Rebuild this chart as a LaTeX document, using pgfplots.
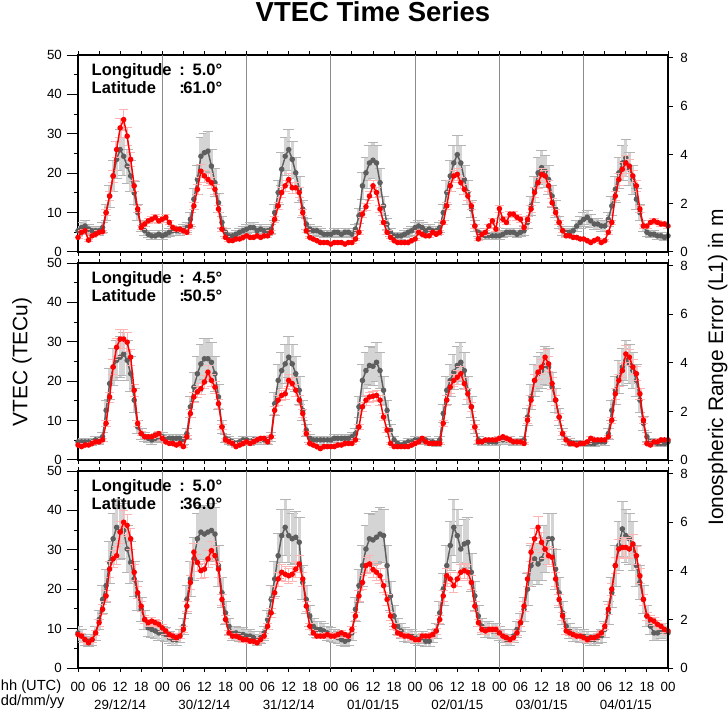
\documentclass[border=0pt]{standalone}
\usepackage{fontspec}
\setmainfont{Liberation Sans}
\usepackage{pgfplots}
\usepackage{pgfplotstable}
\pgfplotsset{compat=1.18}

\definecolor{gline}{HTML}{5E5E5E}
\definecolor{gband}{HTML}{D4D4D4}
\definecolor{gwhisk}{HTML}{B4B4B4}
\definecolor{rband}{HTML}{FFB4B4}

\pgfplotstableread{
h g r
0 5.4 3.7
1 6.2 5.0
2 6.6 5.4
3 5.8 3.0
4 5.4 4.1
5 5.4 4.5
6 5.4 5.0
7 6.2 5.2
8 10.0 10.0
9 14.2 14.2
10 19.3 19.3
11 23.5 26.0
12 26.0 31.5
13 24.3 33.6
14 21.8 29.4
15 19.3 23.5
16 15.0 16.8
17 10.0 10.9
18 6.6 6.2
19 5.4 7.1
20 4.5 7.9
21 4.1 8.3
22 4.1 8.8
23 4.5 7.9
24 4.1 8.3
25 4.5 8.8
26 5.0 7.5
27 5.4 6.2
28 5.4 5.8
29 5.4 5.8
30 5.8 5.4
31 6.2 5.0
32 8.3 6.6
33 13.4 11.7
34 18.4 15.9
35 24.3 20.5
36 25.2 19.3
37 25.6 18.4
38 21.8 17.6
39 17.6 15.9
40 12.5 10.9
41 7.5 5.8
42 5.0 3.7
43 4.1 2.9
44 4.1 2.9
45 4.5 3.3
46 5.0 3.3
47 5.4 3.7
48 5.8 4.1
49 6.2 3.7
50 6.2 3.7
51 5.4 4.1
52 5.8 3.7
53 5.4 4.1
54 5.4 4.1
55 5.8 5.0
56 10.0 8.3
57 15.1 11.7
58 21.0 15.1
59 24.3 16.8
60 26.0 18.4
61 23.5 16.3
62 20.1 16.3
63 15.9 15.1
64 10.9 10.0
65 7.1 5.4
66 5.8 3.7
67 5.4 3.3
68 5.4 2.9
69 5.0 2.4
70 4.5 2.4
71 4.5 2.4
72 4.5 2.0
73 5.0 2.4
74 5.0 2.4
75 4.5 2.4
76 5.0 2.0
77 5.0 2.4
78 4.5 2.4
79 5.8 3.3
80 9.2 5.0
81 16.8 9.6
82 20.1 11.5
83 22.6 14.2
84 23.3 16.8
85 22.6 15.1
86 17.6 10.9
87 11.7 7.5
88 7.1 5.0
89 5.0 3.7
90 4.1 2.9
91 4.1 2.4
92 4.1 2.4
93 4.5 2.4
94 5.0 2.4
95 5.4 2.9
96 6.2 3.3
97 6.6 5.0
98 6.2 4.5
99 5.4 4.1
100 5.8 4.1
101 5.4 5.0
102 5.4 4.5
103 6.2 5.0
104 10.0 7.5
105 15.1 11.7
106 19.3 16.8
107 22.6 19.3
108 24.7 19.7
109 22.6 17.6
110 18.4 15.9
111 15.1 14.2
112 10.9 11.7
113 6.6 6.6
114 5.0 3.3
115 4.5 4.5
116 4.1 5.0
117 4.1 6.6
118 4.1 7.9
119 4.1 5.8
120 4.1 11.0
121 4.5 8.3
122 5.0 7.5
123 5.0 9.6
124 5.0 9.6
125 4.5 8.8
126 5.0 8.3
127 5.4 6.2
128 7.5 8.3
129 11.7 10.9
130 15.9 15.1
131 20.1 17.6
132 21.4 19.7
133 20.5 19.3
134 18.4 16.8
135 14.2 12.5
136 10.9 10.0
137 7.5 7.5
138 5.4 5.4
139 5.0 4.1
140 5.0 4.1
141 5.4 3.7
142 6.6 3.7
143 7.5 3.3
144 8.3 3.3
145 8.8 2.9
146 7.9 2.4
147 7.1 2.9
148 7.1 3.3
149 6.6 2.4
150 6.6 2.9
151 8.3 5.0
152 11.7 7.5
153 15.9 14.2
154 20.1 18.4
155 22.6 21.0
156 23.9 22.6
157 21.0 21.8
158 18.4 19.3
159 13.4 16.8
160 10.0 10.9
161 6.6 6.6
162 5.0 6.6
163 4.5 7.5
164 4.5 7.9
165 4.1 7.5
166 4.1 7.1
167 3.7 7.1
168 4.1 6.6
}\panelA

\pgfplotstableread{
h g r
0 4.6 3.8
1 4.6 3.4
2 4.6 3.8
3 4.6 3.8
4 4.6 4.2
5 5.1 4.6
6 5.1 4.6
7 5.9 5.1
8 12.6 9.3
9 19.4 16.0
10 23.6 23.6
11 25.3 28.6
12 26.1 30.7
13 26.9 30.7
14 25.3 29.9
15 21.9 26.1
16 15.2 17.7
17 8.4 9.3
18 6.7 6.7
19 5.9 5.9
20 5.5 5.9
21 5.1 5.9
22 5.5 6.3
23 5.9 6.7
24 5.9 5.5
25 5.5 4.6
26 5.5 4.2
27 5.5 4.2
28 5.5 3.8
29 5.5 4.2
30 5.1 3.4
31 6.7 5.9
32 13.5 11.8
33 18.5 16.0
34 21.9 17.3
35 24.4 18.1
36 25.7 19.8
37 25.7 22.3
38 24.8 20.2
39 21.9 18.5
40 16.0 14.3
41 8.4 8.4
42 5.5 5.1
43 5.1 4.6
44 4.6 4.2
45 4.2 3.4
46 4.6 3.8
47 5.1 4.2
48 5.1 4.6
49 4.6 4.2
50 5.1 4.6
51 5.1 5.1
52 5.1 5.5
53 5.1 5.5
54 5.1 4.6
55 5.9 5.9
56 14.3 12.6
57 20.2 15.2
58 22.7 16.4
59 24.4 16.8
60 26.1 20.2
61 24.4 19.4
62 21.9 17.7
63 17.7 15.2
64 12.6 11.8
65 7.6 6.7
66 5.5 4.2
67 5.1 3.8
68 5.1 3.4
69 5.1 2.9
70 5.1 3.4
71 5.1 3.4
72 5.1 3.4
73 5.5 3.4
74 5.5 3.8
75 5.5 3.8
76 5.5 4.2
77 5.5 4.2
78 5.9 4.2
79 6.7 5.1
80 13.5 8.4
81 20.2 13.5
82 22.7 15.2
83 24.0 16.0
84 23.8 16.2
85 24.8 16.4
86 22.7 15.2
87 17.7 10.9
88 12.6 7.6
89 7.6 4.2
90 5.1 3.4
91 4.2 3.4
92 3.8 3.4
93 4.2 3.4
94 4.6 3.4
95 4.6 3.8
96 5.1 4.2
97 5.1 4.6
98 5.1 5.5
99 5.1 4.6
100 4.6 4.2
101 4.6 4.2
102 4.2 4.2
103 5.1 4.2
104 11.8 9.3
105 17.7 15.2
106 20.2 18.5
107 22.3 20.2
108 24.0 21.0
109 24.8 21.9
110 22.7 19.4
111 17.7 16.8
112 13.5 13.5
113 8.4 8.4
114 5.1 4.6
115 4.6 4.6
116 4.6 5.1
117 4.6 5.1
118 4.6 5.1
119 4.6 5.1
120 5.1 5.5
121 5.1 5.9
122 5.1 5.5
123 5.1 5.1
124 4.6 4.6
125 4.6 4.6
126 4.6 4.6
127 5.1 4.2
128 10.9 10.1
129 16.0 15.2
130 20.2 20.2
131 21.9 22.3
132 22.7 23.6
133 24.0 26.1
134 23.6 24.4
135 18.5 19.4
136 15.2 15.2
137 10.9 10.9
138 6.7 6.7
139 5.1 5.1
140 4.6 4.2
141 4.2 4.2
142 4.2 3.8
143 4.2 4.2
144 4.2 4.2
145 4.2 4.6
146 4.2 5.5
147 4.2 5.1
148 4.6 5.1
149 4.6 5.1
150 4.6 5.1
151 6.7 5.9
152 12.6 10.1
153 17.7 16.8
154 21.0 20.2
155 23.6 22.7
156 25.3 26.9
157 24.4 26.1
158 22.7 23.6
159 20.2 21.9
160 15.2 16.8
161 9.3 10.1
162 5.9 4.2
163 4.6 3.8
164 4.6 4.6
165 4.2 4.6
166 4.2 5.1
167 4.2 5.1
168 4.6 5.1
}\panelB

\pgfplotstableread{
h g r
0 8.9 8.5
1 8.1 8.1
2 7.2 7.2
3 6.8 6.4
4 7.2 7.2
5 8.9 8.9
6 12.3 11.5
7 17.4 14.9
8 20.9 18.3
9 26.8 25.1
10 32.8 27.7
11 35.7 28.5
12 34.5 34.5
13 34.9 37.0
14 30.2 36.2
15 26.8 32.8
16 22.6 24.3
17 18.3 19.1
18 14.9 15.7
19 12.3 12.3
20 10.2 11.5
21 9.8 11.9
22 9.4 11.5
23 8.9 11.1
24 8.9 10.2
25 8.5 9.4
26 7.7 8.5
27 7.2 8.1
28 7.2 7.7
29 8.1 8.1
30 10.6 9.8
31 17.4 15.7
32 22.6 21.7
33 27.7 29.4
34 32.8 26.8
35 34.5 24.7
36 34.0 25.1
37 34.5 27.7
38 34.9 29.8
39 34.0 28.5
40 26.0 25.1
41 19.1 17.4
42 14.0 12.3
43 10.6 8.9
44 8.9 8.1
45 8.9 8.1
46 8.5 7.7
47 8.5 7.2
48 8.1 7.2
49 8.1 6.8
50 7.7 6.8
51 7.2 6.4
52 7.7 7.2
53 8.9 8.1
54 12.3 10.6
55 17.4 14.0
56 22.6 19.1
57 28.5 22.6
58 33.6 24.3
59 35.7 23.8
60 33.6 23.4
61 32.8 23.8
62 33.2 25.1
63 31.9 26.4
64 21.7 22.6
65 17.4 15.7
66 13.2 10.6
67 10.6 8.9
68 9.8 8.1
69 9.8 8.1
70 9.4 8.1
71 8.9 8.5
72 8.5 8.1
73 8.1 8.1
74 7.7 8.5
75 7.2 8.9
76 6.8 8.5
77 7.2 8.1
78 8.9 9.8
79 14.9 13.2
80 20.9 18.3
81 26.0 21.7
82 30.2 26.0
83 32.8 26.4
84 32.5 25.0
85 33.2 24.3
86 34.0 23.4
87 33.6 20.9
88 26.0 17.4
89 18.3 13.2
90 13.2 10.6
91 10.6 8.9
92 9.4 8.5
93 8.5 8.1
94 8.1 8.1
95 8.1 7.7
96 7.7 7.2
97 7.2 7.2
98 7.7 8.1
99 6.8 8.1
100 6.8 8.1
101 8.1 8.5
102 9.4 9.4
103 14.0 12.3
104 20.0 18.3
105 26.0 23.4
106 31.1 22.6
107 35.7 20.9
108 33.6 22.6
109 30.2 24.3
110 31.5 24.7
111 31.9 24.3
112 24.3 21.7
113 18.3 15.7
114 13.2 11.5
115 10.6 9.8
116 9.8 9.4
117 9.8 9.8
118 9.4 9.8
119 9.4 9.8
120 8.9 8.9
121 8.1 8.1
122 7.2 7.7
123 7.2 7.2
124 8.1 7.7
125 9.8 8.9
126 11.5 11.5
127 14.9 15.7
128 20.0 22.6
129 26.0 29.4
130 27.7 32.8
131 26.4 35.7
132 27.7 31.9
133 30.2 30.2
134 32.8 28.5
135 32.8 28.1
136 25.1 22.6
137 19.1 17.4
138 14.0 13.2
139 10.6 9.4
140 9.4 8.9
141 8.5 8.5
142 8.5 8.1
143 8.1 8.1
144 8.1 7.7
145 7.7 7.2
146 7.2 7.7
147 7.2 7.7
148 7.7 8.1
149 8.1 8.9
150 9.8 10.6
151 14.0 14.9
152 19.1 20.0
153 26.0 26.0
154 31.1 30.2
155 35.3 30.6
156 33.6 30.6
157 32.8 30.2
158 31.1 31.5
159 26.0 28.5
160 21.7 23.4
161 17.4 17.4
162 13.2 13.2
163 10.6 12.3
164 8.9 11.9
165 8.9 11.1
166 9.4 10.6
167 9.4 9.8
168 8.9 9.4
}\panelC

\newcommand{\tickfont}{\fontsize{10}{12}\selectfont}
\newcommand{\infofont}{\fontsize{12.4}{14}\selectfont\bfseries}

\tikzset{
  info/.style={font=\infofont},
  hlab/.style={anchor=center, yshift=-14pt, font=\tickfont},
  dlab/.style={anchor=center, yshift=-27.4pt, font=\tickfont},
}

\pgfplotsset{
  panel/.style={
    scale only axis, width=442.5pt, height=147.75pt, anchor=south west,
    xmin=0, xmax=168, ymin=0, ymax=50,
    xtick={0,6,...,168}, xticklabels={},
    extra x ticks={24,48,...,144}, extra x tick labels={},
    extra x tick style={grid=major, major grid style={color=gray!90, line width=0.75pt}},
    ytick={0,10,...,50}, minor ytick={5,15,...,45},
    tick align=outside, xtick pos=both, ytick pos=left,
    major tick length=8.6pt, minor tick length=3pt,
    xtick style={/pgfplots/major tick length=3pt, color=black, line width=0.75pt},
    ytick style={color=black, line width=0.75pt},
    axis line style={black, line width=1pt},
    /pgf/number format/assume math mode=true,
    yticklabel style={font=\tickfont, inner sep=0pt, xshift=-3.3pt},
    clip mode=individual,
  },
  rpanel/.style={
    scale only axis, width=442.5pt, height=147.75pt, anchor=south west,
    xmin=0, xmax=168, ymin=0, ymax=8.1,
    axis x line=none, axis y line*=right,
    ytick={0,2,4,6,8},
    tick align=outside, major tick length=3.75pt,
    ytick style={color=black, line width=0.75pt},
    axis line style={black, line width=1pt},
    /pgf/number format/assume math mode=true,
    yticklabel style={font=\tickfont, inner sep=0pt, xshift=5.3pt},
  },
  gerr/.style={mark=none, draw=none, forget plot,
    error bars/.cd, y dir=both, y fixed relative=0.2, error mark=-,
    error bar style={line width=2.4pt, draw=gband, solid},
    error mark options={rotate=90, draw=gwhisk, line width=0.5pt, mark size=4pt}},
  gln/.style={color=gline, mark=*, mark size=1.5pt, line width=1.1pt},
  rerr/.style={mark=none, draw=none, forget plot,
    error bars/.cd, y dir=both, y fixed relative=0.08, error mark=-,
    error bar style={line width=0.6pt, draw=rband, solid},
    error mark options={rotate=90, draw=rband, line width=0.5pt, mark size=3.5pt}},
  rln/.style={color=red, mark=*, mark size=1.5pt, line width=1.1pt},
}

\begin{document}
\begin{tikzpicture}
\path[use as bounding box] (0,0) rectangle (546pt,533.25pt);

% ---------- panel 1 ----------
\begin{axis}[panel, at={(58.5pt,344.25pt)}]
\addplot[gerr] table[x=h,y=g]{\panelA};
\addplot[gln] table[x=h,y=g]{\panelA};
\addplot[rerr] table[x=h,y=r]{\panelA};
\addplot[rln] table[x=h,y=r]{\panelA};
\node[info, anchor=base west] at (axis description cs:0.0153,0.898) {Longitude};
\node[info, anchor=base] at (axis description cs:0.1763,0.898) {:};
\node[info, anchor=base east] at (axis description cs:0.2525,0.898) {5.0°};
\node[info, anchor=base west] at (axis description cs:0.0153,0.806) {Latitude};
\node[info, anchor=base] at (axis description cs:0.1763,0.806) {:};
\node[info, anchor=base east] at (axis description cs:0.2525,0.806) {61.0°};
\end{axis}
\begin{axis}[rpanel, at={(58.5pt,344.25pt)}]
\end{axis}

% ---------- panel 2 ----------
\begin{axis}[panel, at={(58.5pt,188.25pt)}]
\addplot[gerr] table[x=h,y=g]{\panelB};
\addplot[gln] table[x=h,y=g]{\panelB};
\addplot[rerr] table[x=h,y=r]{\panelB};
\addplot[rln] table[x=h,y=r]{\panelB};
\node[info, anchor=base west] at (axis description cs:0.0153,0.898) {Longitude};
\node[info, anchor=base] at (axis description cs:0.1763,0.898) {:};
\node[info, anchor=base east] at (axis description cs:0.2525,0.898) {4.5°};
\node[info, anchor=base west] at (axis description cs:0.0153,0.806) {Latitude};
\node[info, anchor=base] at (axis description cs:0.1763,0.806) {:};
\node[info, anchor=base east] at (axis description cs:0.2525,0.806) {50.5°};
\end{axis}
\begin{axis}[rpanel, at={(58.5pt,188.25pt)}]
\end{axis}

% ---------- panel 3 ----------
\begin{axis}[panel, at={(58.5pt,32.25pt)}]
\addplot[gerr] table[x=h,y=g]{\panelC};
\addplot[gln] table[x=h,y=g]{\panelC};
\addplot[rerr] table[x=h,y=r]{\panelC};
\addplot[rln] table[x=h,y=r]{\panelC};
\node[info, anchor=base west] at (axis description cs:0.0153,0.898) {Longitude};
\node[info, anchor=base] at (axis description cs:0.1763,0.898) {:};
\node[info, anchor=base east] at (axis description cs:0.2525,0.898) {5.0°};
\node[info, anchor=base west] at (axis description cs:0.0153,0.806) {Latitude};
\node[info, anchor=base] at (axis description cs:0.1763,0.806) {:};
\node[info, anchor=base east] at (axis description cs:0.2525,0.806) {36.0°};
\pgfplotsinvokeforeach{0,...,6}{
  \node[hlab] at (axis cs:{24*#1},0) {00};
  \node[hlab] at (axis cs:{24*#1+6},0) {06};
  \node[hlab] at (axis cs:{24*#1+12},0) {12};
  \node[hlab] at (axis cs:{24*#1+18},0) {18};
}
\node[hlab] at (axis cs:168,0) {00};
\node[dlab] at (axis cs:12,0) {29/12/14};
\node[dlab] at (axis cs:36,0) {30/12/14};
\node[dlab] at (axis cs:60,0) {31/12/14};
\node[dlab] at (axis cs:84,0) {01/01/15};
\node[dlab] at (axis cs:108,0) {02/01/15};
\node[dlab] at (axis cs:132,0) {03/01/15};
\node[dlab] at (axis cs:156,0) {04/01/15};
\end{axis}
\begin{axis}[rpanel, at={(58.5pt,32.25pt)}]
\end{axis}

% ---------- titles and labels ----------
\node[font=\fontsize{20.6}{24}\selectfont\bfseries] at (279.75pt,524.2pt) {VTEC Time Series};
\node[rotate=90, font=\fontsize{15.7}{19}\selectfont] at (16.5pt,261.75pt) {VTEC (TECu)};
\node[rotate=90, font=\fontsize{15.7}{19}\selectfont] at (538.2pt,257.6pt) {Ionospheric Range Error (L1) in m};
\node[anchor=west, font=\fontsize{11}{13}\selectfont, inner sep=0pt] at (0.5pt,18.4pt) {hh (UTC)};
\node[anchor=west, font=\fontsize{11}{13}\selectfont, inner sep=0pt] at (0.5pt,7.1pt) {dd/mm/yy};
\end{tikzpicture}
\end{document}
